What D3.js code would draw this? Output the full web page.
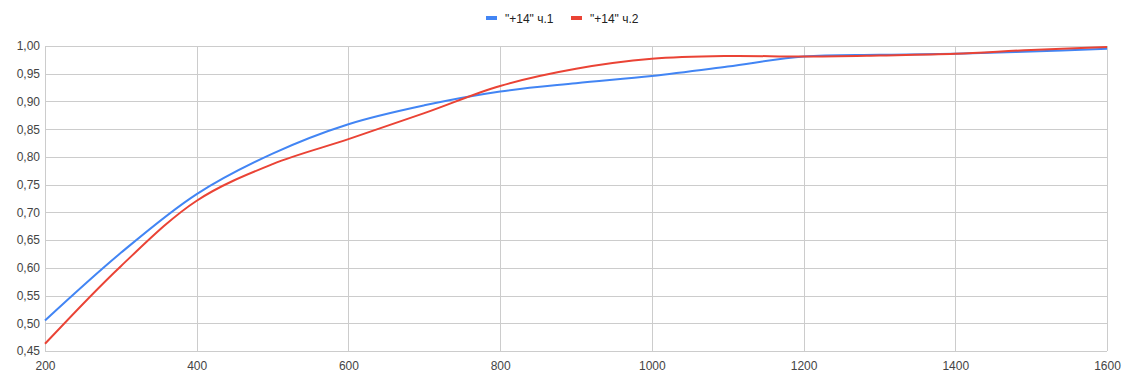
<!DOCTYPE html>
<html><head><meta charset="utf-8">
<script src="https://cdn.jsdelivr.net/npm/d3@7"></script>
<style>body{margin:0;background:#fff}svg{display:block;font-family:Arial,"Liberation Sans",sans-serif}</style>
</head><body><svg id="c" width="1122" height="382"></svg>
<script>
const xValues = [200,300,400,500,600,700,800,900,1000,1100,1200,1300,1400,1500,1600];
const series1 = [0.505,0.627,0.733,0.806,0.859,0.893,0.918,0.933,0.946,0.963,0.981,0.984,0.986,0.990,0.995];
const series2 = [0.463,0.603,0.721,0.787,0.832,0.879,0.928,0.959,0.977,0.982,0.981,0.983,0.986,0.993,0.998];
const seriesNames = ['"+14" ч.1','"+14" ч.2'];
const seriesColors = ['#4285F4','#EA4335'];
const xTicks = [200,400,600,800,1000,1200,1400,1600];
const yTicks = [0.45,0.5,0.55,0.6,0.65,0.7,0.75,0.8,0.85,0.9,0.95,1.0];

const svg = d3.select('#c');
const m = {l:45, r:1107, t:46, b:351};
const x = d3.scaleLinear().domain([200,1600]).range([m.l,m.r]);
const y = d3.scaleLinear().domain([0.45,1.0]).range([m.b,m.t]);
const fmt = d => d.toFixed(2).replace('.',',');

// grid
const gy = svg.append('g').attr('transform',`translate(${m.l},0)`)
  .call(d3.axisLeft(y).tickValues(yTicks).tickSize(-(m.r-m.l)).tickFormat(fmt).tickPadding(5));
gy.select('.domain').remove();
gy.selectAll('line').attr('stroke','#cccccc').attr('shape-rendering','crispEdges');
gy.selectAll('text').attr('fill','#444').style('font-size','12px');

const gx = svg.append('g').attr('transform',`translate(0,${m.b})`)
  .call(d3.axisBottom(x).tickValues(xTicks).tickSize(-(m.b-m.t)).tickFormat(d3.format('d')).tickPadding(10));
gx.select('.domain').remove();
gx.selectAll('line').attr('stroke','#cccccc').attr('shape-rendering','crispEdges');
gx.selectAll('text').attr('fill','#444').style('font-size','12px');

const line = d3.line().x((d,i)=>x(xValues[i])).y(d=>y(d)).curve(d3.curveCatmullRom.alpha(0.5));
[series1,series2].forEach((s,i)=>{
  svg.append('path').datum(s).attr('d',line).attr('fill','none')
    .attr('stroke',seriesColors[i]).attr('stroke-width',2);
});

// legend
const leg = svg.append('g');
const lx = [486,571];
seriesNames.forEach((n,i)=>{
  leg.append('rect').attr('x',lx[i]).attr('y',16).attr('width',11).attr('height',4).attr('fill',seriesColors[i]);
  leg.append('text').attr('x',lx[i]+19).attr('y',23).text(n).attr('fill','#222').style('font-size','12px');
});
</script></body></html>
